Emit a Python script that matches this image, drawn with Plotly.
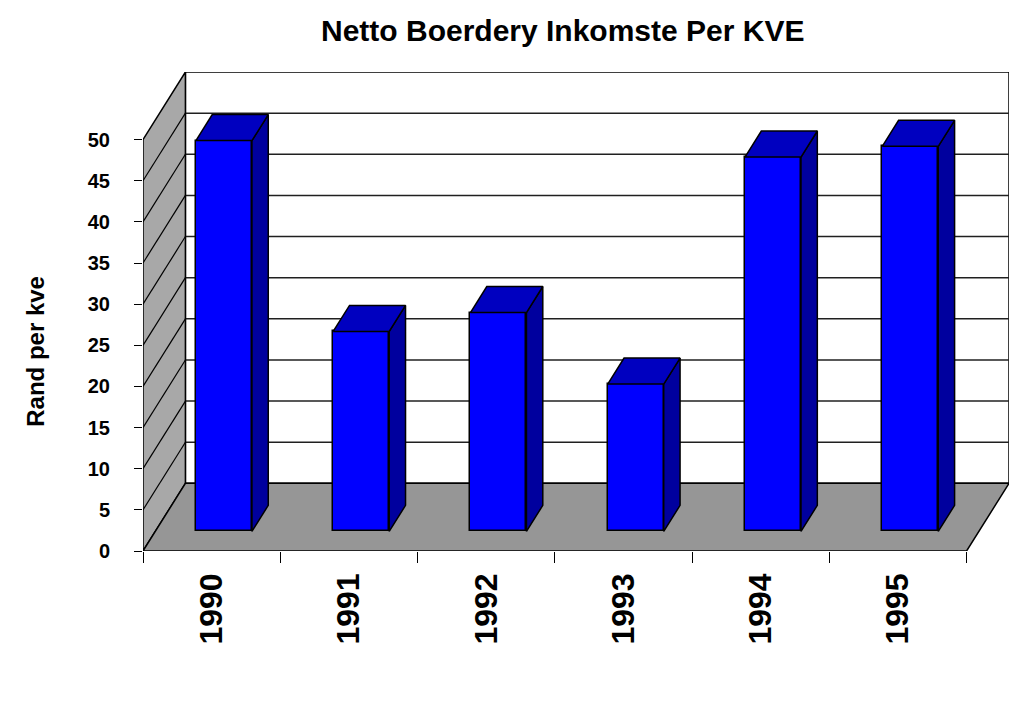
import plotly.graph_objects as go

# data
years = ["1990", "1991", "1992", "1993", "1994", "1995"]
rand_per_kve = [47.5, 24.3, 26.6, 17.9, 45.5, 46.8]
y_ticks = [0, 5, 10, 15, 20, 25, 30, 35, 40, 45, 50]

# fake 3d: depth offset of the back wall in axis units
DX = 0.309
DY = 8.22
F0, F1 = 0.29, 0.675   # front / back depth of the bars
BAR_W = 0.408
YMAX = 50

n = len(years)
xs = list(range(n))
left, right = -0.5, n - 0.5

fig = go.Figure()

# top and side faces of the bars, built from the values
top_x, top_y, side_x, side_y = [], [], [], []
ddx = (F1 - F0) * DX
for i, v in zip(xs, rand_per_kve):
    xl = i + F0 * DX - BAR_W / 2
    xr = i + F0 * DX + BAR_W / 2
    y0 = F0 * DY
    yt = v + F0 * DY
    yb = v + F1 * DY
    top_x += [xl, xr, xr + ddx, xl + ddx, xl, None]
    top_y += [yt, yt, yb, yb, yt, None]
    side_x += [xr, xr, xr + ddx, xr + ddx, xr, None]
    side_y += [y0, yt, yb, F1 * DY, y0, None]

fig.add_trace(go.Scatter(x=side_x, y=side_y, fill="toself", mode="lines",
                         fillcolor="#00009E", line=dict(color="black", width=1.5),
                         hoverinfo="skip", showlegend=False))
fig.add_trace(go.Scatter(x=top_x, y=top_y, fill="toself", mode="lines",
                         fillcolor="#0000C0", line=dict(color="black", width=1.5),
                         hoverinfo="skip", showlegend=False))
fig.add_trace(go.Bar(
    x=[i + F0 * DX for i in xs],
    y=rand_per_kve,
    base=F0 * DY,
    width=BAR_W,
    marker=dict(color="#0000FF", line=dict(color="black", width=1.5)),
    showlegend=False,
))

# walls, floor and grid
shapes = []
# back wall
shapes.append(dict(type="rect", layer="below", xref="x", yref="y",
                   x0=left + DX, x1=right + DX, y0=DY, y1=YMAX + DY,
                   fillcolor="white", line=dict(color="black", width=1.5)))
for t in y_ticks[1:-1]:
    shapes.append(dict(type="line", layer="below", xref="x", yref="y",
                       x0=left + DX, x1=right + DX, y0=t + DY, y1=t + DY,
                       line=dict(color="#202020", width=1.5)))
# left wall
shapes.append(dict(type="path", layer="below", xref="x", yref="y",
                   path=f"M {left},0 L {left},{YMAX} L {left + DX},{YMAX + DY} L {left + DX},{DY} Z",
                   fillcolor="#A8A8A8", line=dict(color="black", width=1.5)))
for t in y_ticks[1:-1]:
    shapes.append(dict(type="line", layer="below", xref="x", yref="y",
                       x0=left, x1=left + DX, y0=t, y1=t + DY,
                       line=dict(color="black", width=1.2)))
# floor
shapes.append(dict(type="path", layer="below", xref="x", yref="y",
                   path=f"M {left},0 L {right},0 L {right + DX},{DY} L {left + DX},{DY} Z",
                   fillcolor="#969696", line=dict(color="black", width=1.5)))

# page body has an 8px margin, so the figure is a bit smaller than the window
fig.update_layout(
    width=1016, height=707,
    margin=dict(l=135, r=15, t=64, b=164),
    paper_bgcolor="white", plot_bgcolor="white",
    font=dict(family="Liberation Sans, Arial, sans-serif", color="black"),
    title=dict(text="<b>Netto Boerdery Inkomste Per KVE</b>",
               xref="container", x=0.546, xanchor="center",
               yref="container", y=0.968, yanchor="middle",
               font=dict(size=30)),
    shapes=shapes,
    annotations=[dict(text="<b>Rand per kve</b>", textangle=-90,
                      xref="paper", yref="paper", x=-0.125, y=0.4175,
                      xanchor="center", yanchor="middle", showarrow=False,
                      font=dict(size=24))],
    bargap=0,
)

fig.update_xaxes(
    range=[left, right + DX], showgrid=False, zeroline=False, showline=False,
    tickmode="array", tickvals=xs, ticktext=[f"<b>{y}</b>" for y in years],
    tickangle=-90, ticks="", tickfont=dict(size=32), ticklabelstandoff=15,
    minor=dict(tickmode="array", tickvals=[i - 0.5 for i in range(n + 1)],
               ticks="outside", ticklen=11, tickcolor="black", tickwidth=1,
               showgrid=False),
)
fig.update_yaxes(
    range=[0, YMAX + DY], showgrid=False, zeroline=False, showline=False,
    tickmode="array", tickvals=y_ticks, ticktext=[f"<b>{t}</b>" for t in y_ticks],
    ticks="outside", ticklen=8, tickcolor="black", tickwidth=1,
    tickfont=dict(size=20), ticklabelstandoff=20,
)

fig.write_html("out.html")
